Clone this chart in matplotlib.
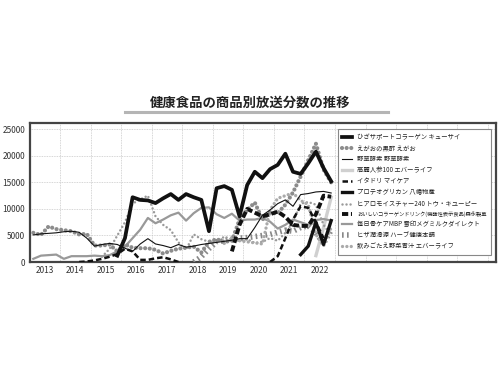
import numpy as np
import matplotlib.pyplot as plt
from matplotlib.lines import Line2D

plt.rcParams['font.family'] = ['Noto Sans CJK JP', 'DejaVu Sans']

nan = np.nan
# quarterly data, 2013Q1 .. 2022Q4
quarters = np.arange(40)
x = 2013 + (quarters + 0.5) / 4.0

kyusai = [nan]*11 + [1200, 4500, 12200, 11700, 11600, 11100, 12000, 12800, 11700, 12800,
                     12200, 11700, 5800, 13900, 14300, 13600, 8600, 14500, 17000, 15800,
                     17500, 18300, 20400, 17000, 16600, 18600, 20800, 17700, 15200]
egao = [5500, 5100, 6700, 6200, 6000, 5800, 5200, 5300, 3100, 3100,
        3300, 2000, 3300, 2700, 2600, 2600, 2300, 1600, 2100, 2500,
        2700, 2900, 1800, 3800, 4300, 3800, 4000, 8000, 9800, 11200,
        8000, 9300, 9200, 10800, 13100, 16100, 19200, 22300, 17400, 15000]
yasou = [5100, 5300, 5400, 5500, 5700, 5800, 5600, 4500, 3000, 3300,
         3500, 3300, 2600, 2000, 3400, 4400, 3400, 3100, 2700, 3300,
         2800, 3000, 3300, 3500, 3700, 3900, 4100, 4400, 4400, 6500,
         8800, 9800, 11000, 11700, 10500, 12700, 12900, 13200, 13300, 13000]
korai = [nan]*37 + [1200, 6500, 12200]
itadori = [nan]*6 + [0, 100, 300, 600, 1000, 1500, 2500, 2000, 400, 400, 700, 900, 500, 0] \
          + [nan]*11 + [0, 1100, 4500, 8000, 10500, 10200, 7500, 4500, nan]
proteo = [nan]*35 + [1400, 3000, 7500, 3300, 7800]
hiaro = [nan]*9 + [1000, 2500, 5000, 7500, 11000, 11800, 12500, 8600, 7000, 6000,
                   3700, 2300, 5200, 4300, 3800, 3600, 4800, 4200, 4000, 4300,
                   3600, 3800, 4500, 4000, 5500, 7500, 11000, 11300, 10800, 7000, 5000]
morinaga = [nan]*26 + [2000, 7000, 10000, 9300, 8600, 9000, 9500, 8500, 7000, 6800,
                       6800, 9000, 12500, 12300]
mbp = [600, 1200, 1300, 1400, 600, 1100, 1100, 1100, 1200, 1100,
       1300, 2000, 2900, 4500, 6100, 8300, 7300, 8000, 8800, 9300,
       7800, 9200, 10200, 10300, 9000, 8300, 9100, 7800, 8000, 8000,
       8300, 7600, 6300, 7000, 8000, 7500, 7000, 7900, 8100, 7800]
hiza = [nan]*21 + [0, 1000, 2500, 3800, 4000, 4300, 4500, 4600, 4800, 5000,
                   5200, 5600, 6000, 5800, 6500, 6800, 5500, 3500, 6000]
aojiru = [nan]*25 + [3500, 4500, 4000, 3800, 3600, 3400, 9800, 12000, 12500, 13000,
                     11600, 10800, 5200, 3000, 6500]

labels = ["ひざサポートコラーゲン キューサイ", "えがおの黒酢 えがお", "野草酵素 野草酵素",
          "高麗人参100 エバーライフ", "イタドリ マイケア", "プロテオグリカン 八幡物産",
          "ヒアロモイスチャー240 トウ・キユーピー",
          "おいしいコラーゲンドリンク(機能性表示食品)森永製菓",
          "毎日骨ケアMBP 雪印メグミルクダイレクト", "ヒザ潤滑源 ハーブ健康本舗",
          "飲みごたえ野菜青汁 エバーライフ"]
series = [kyusai, egao, yasou, korai, itadori, proteo, hiaro, morinaga, mbp, hiza, aojiru]

styles = [
    dict(color="#111111", lw=2.7, ls="-", zorder=10),
    dict(color="#8c8c8c", lw=3.0, ls=(0, (0.01, 1.1)), dash_capstyle="round", zorder=6),
    dict(color="#111111", lw=0.8, ls="-", zorder=8),
    dict(color="#d0d0d0", lw=2.4, ls="-", zorder=3),
    dict(color="#111111", lw=1.8, ls=(0, (2.2, 1.2)), zorder=7),
    dict(color="#111111", lw=2.4, ls="-", zorder=9),
    dict(color="#9a9a9a", lw=1.8, ls=(0, (0.01, 1.6)), dash_capstyle="round", zorder=5),
    dict(color="#111111", lw=2.8, ls=(0, (1.6, 0.7)), zorder=7),
    dict(color="#999999", lw=1.6, ls="-", zorder=4),
    dict(color="#888888", lw=4.0, ls=(0, (0.3, 0.6)), zorder=4),
    dict(color="#aaaaaa", lw=2.4, ls=(0, (0.01, 1.3)), dash_capstyle="round", zorder=5),
]

fig = plt.figure(figsize=(5, 3.75), dpi=100, facecolor="white")
ax = fig.add_axes([0.059, 0.3013, 0.933, 0.372])

for vals, lab, st in zip(series, labels, styles):
    ax.plot(x, vals, label=lab, **st)

ax.set_xlim(2013, 2028.27)
ax.set_ylim(0, 26280)
ax.set_yticks(range(0, 25001, 5000))
ax.set_xticks(np.arange(2013, 2023) + 0.5)
ax.set_xticklabels([str(y) for y in range(2013, 2023)])
ax.set_xticks(range(2014, 2029), minor=True)
ax.tick_params(axis="both", which="both", length=0, labelsize=6, colors="#333333")
ax.tick_params(axis="y", pad=3)
ax.tick_params(axis="x", pad=3)
ax.grid(True, axis="y", which="major", ls=(0, (1, 1)), color="#c8c8c8", lw=0.6)
ax.grid(True, axis="x", which="minor", ls=(0, (1, 1)), color="#c8c8c8", lw=0.6)
for s in ax.spines.values():
    s.set_color("#444444")
    s.set_linewidth(1.6)

leg = ax.legend(loc="upper right", bbox_to_anchor=(0.989, 0.955), fontsize=4.55,
                frameon=True, fancybox=False, edgecolor="#888888", framealpha=1,
                handlelength=1.6, handletextpad=0.85, labelspacing=0.5,
                borderpad=0.65, borderaxespad=0)
leg.get_frame().set_linewidth(0.8)
leg.set_zorder(20)
leg.get_texts()[7].set_fontsize(3.8)
for t in leg.get_texts():
    t.set_color("#222222")

fig.text(0.5, 0.725, "健康食品の商品別放送分数の推移", ha="center", va="center",
         fontsize=9.6, fontweight="bold", color="#222222")
fig.add_artist(Line2D([0.25, 0.776], [0.701, 0.701], color="#b5b5b5", lw=2.2,
                      transform=fig.transFigure))

plt.savefig("out.png", dpi=100)
